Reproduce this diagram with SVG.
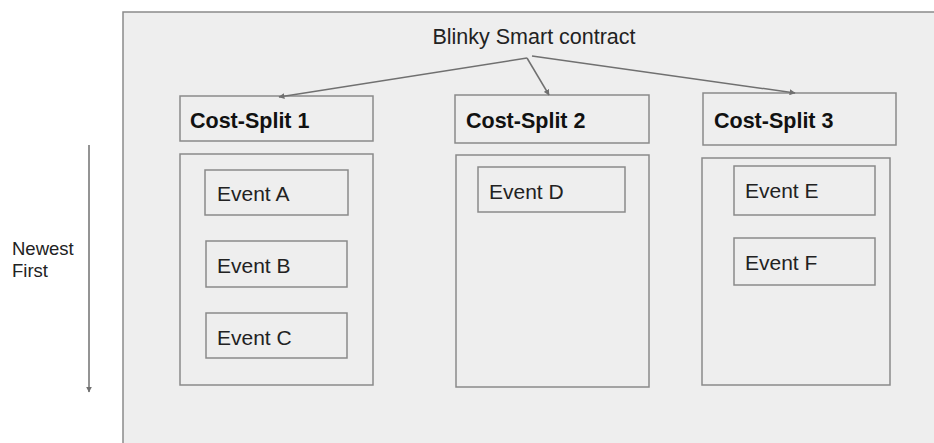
<svg xmlns="http://www.w3.org/2000/svg" width="934" height="443" viewBox="0 0 934 443">
<style>
.box{fill:#eeeeee;stroke:#8a8a8a;stroke-width:1.5}
.t{font-family:"Liberation Sans",Arial,sans-serif;font-size:21px;fill:#222}
.b{font-family:"Liberation Sans",Arial,sans-serif;font-size:21.5px;font-weight:bold;fill:#111}
.c{stroke:#707070;stroke-width:1.5;fill:none;marker-end:url(#ah)}
</style>
<defs>
<marker id="ah" viewBox="0 0 10 10" refX="9" refY="5" markerWidth="4" markerHeight="4" orient="auto" markerUnits="strokeWidth">
<path d="M0,0 L10,5 L0,10 z" fill="#707070"/>
</marker>
</defs>
<rect width="934" height="443" fill="#ffffff"/>
<g id="frame"><rect x="123" y="12" width="820" height="440" class="box"/></g>
<g id="title"><text x="534" y="44" text-anchor="middle" class="t" style="font-size:21.5px">Blinky Smart contract</text></g>
<g id="cs1"><rect x="180" y="96" width="193" height="45" class="box"/><text x="190" y="128" class="b">Cost-Split 1</text></g>
<g id="cs2"><rect x="455" y="95" width="194" height="48" class="box"/><text x="466" y="128" class="b">Cost-Split 2</text></g>
<g id="cs3"><rect x="703" y="93" width="193" height="52" class="box"/><text x="714" y="128" class="b">Cost-Split 3</text></g>
<g id="list1"><rect x="180" y="154" width="193" height="231" class="box"/></g>
<g id="list2"><rect x="456" y="155" width="193" height="232" class="box"/></g>
<g id="list3"><rect x="702" y="158" width="188" height="227" class="box"/></g>
<g id="evA"><rect x="205" y="170" width="143" height="45" class="box"/><text x="217" y="201" class="t">Event A</text></g>
<g id="evB"><rect x="206" y="241" width="141" height="46" class="box"/><text x="217" y="273" class="t">Event B</text></g>
<g id="evC"><rect x="206" y="313" width="141" height="45" class="box"/><text x="217" y="345" class="t">Event C</text></g>
<g id="evD"><rect x="478" y="167" width="147" height="45" class="box"/><text x="489" y="199" class="t">Event D</text></g>
<g id="evE"><rect x="734" y="166" width="141" height="49" class="box"/><text x="745" y="198" class="t">Event E</text></g>
<g id="evF"><rect x="734" y="238" width="141" height="47" class="box"/><text x="745" y="270" class="t">Event F</text></g>
<g id="newest"><text x="12" y="255" class="t" style="font-size:18.5px">Newest</text><text x="12" y="277" class="t" style="font-size:18.5px">First</text></g>
<g id="connectors">
<path class="c" d="M527,58 L279,97"/>
<path class="c" d="M527,58 L549,95"/>
<path class="c" d="M532,56 L795,93"/>
<path class="c" d="M89,145 L89,392"/>
</g>
</svg>
